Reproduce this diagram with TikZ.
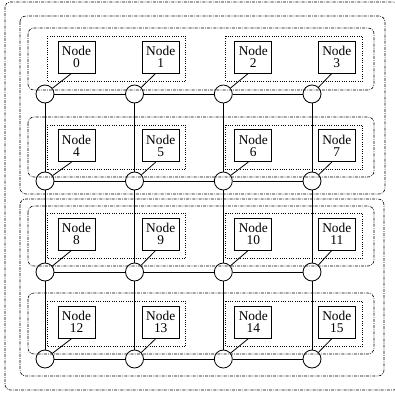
\documentclass[tikz,border=0pt]{standalone}
\usepackage{fontspec}
\setmainfont{Liberation Serif}
\usetikzlibrary{calc}
\begin{document}
\begin{tikzpicture}[x=1pt,y=-1pt,
  nodebox/.style={draw, line width=0.8pt, minimum width=37pt, minimum height=32pt, inner sep=0pt, align=center, font=\fontsize{13.4}{12}\selectfont},
  router/.style={circle, draw, fill=white, line width=0.8pt, minimum size=18pt, inner sep=0pt},
  link/.style={line width=0.8pt},
  groupbox/.style={dash pattern=on 3pt off 1.2pt on 0.8pt off 1.2pt, line width=0.6pt, rounded corners=6pt},
  pairbox/.style={dash pattern=on 0.7pt off 1.6pt, line width=0.6pt}]
\useasboundingbox (0,0) rectangle (394,396);
\foreach \r/\cy/\ny in {0/94/57, 1/181/145.7, 2/272/234, 3/359/322.3} {
  \foreach \c/\cx/\nx in {0/45/76.5, 1/134.5/160.7, 2/223.3/253.3, 3/312/336.8} {
    \pgfmathtruncatemacro\k{4*\r+\c}
    \node[router] (c\k) at (\cx,\cy) {};
    \node[nodebox] (n\k) at (\nx,\ny) {Node\\\k};
  }
}
% horizontal links
\foreach \a/\b in {0/1,1/2,2/3,4/5,5/6,6/7,8/9,9/10,10/11,12/13,13/14,14/15}
  \draw[link] (c\a) -- (c\b);
% vertical links
\foreach \a/\b in {0/4,4/8,8/12,1/5,5/9,9/13,2/6,6/10,10/14,3/7,7/11,11/15}
  \draw[link] (c\a) -- (c\b);
% node to router
\foreach \k in {0,...,15}
  \draw[link] (c\k) -- ([xshift=-5pt]n\k.south);
% pair boxes
\foreach \a/\b in {0/1,4/5,8/9,12/13}
  \draw[pairbox] ([shift={(-10.5,-4.5)}]n\a.north west) rectangle ([shift={(6,7.5)}]n\b.south east);
\foreach \a/\b in {2/3,6/7,10/11,14/15}
  \draw[pairbox] ([shift={(-9,-4.5)}]n\a.north west) rectangle ([shift={(7,7.5)}]n\b.south east);
% row boxes
\draw[groupbox] (28,28) rectangle (374,90);
\draw[groupbox] (28,117) rectangle (374,177);
\draw[groupbox] (28,206) rectangle (374,266);
\draw[groupbox] (28,293) rectangle (374,354);
% group boxes
\draw[groupbox] (20,16) rectangle (385,194);
\draw[groupbox] (20,199) rectangle (384,376);
% outer box
\draw[groupbox, rounded corners=5pt] (5,2) rectangle (399,390);
\end{tikzpicture}
\end{document}
